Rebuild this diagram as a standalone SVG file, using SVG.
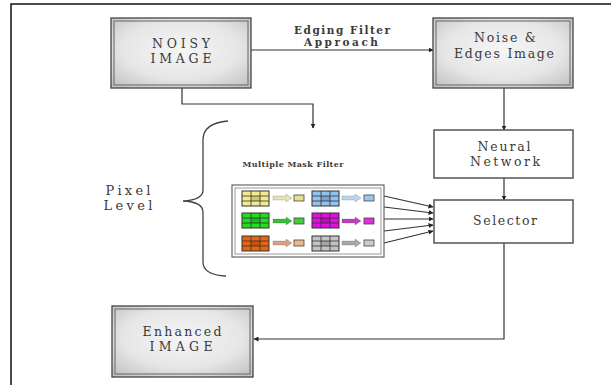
<svg xmlns="http://www.w3.org/2000/svg" xmlns:xlink="http://www.w3.org/1999/xlink" width="611" height="385" viewBox="0 0 611 385">
<defs>
<radialGradient id="gb" cx="50%" cy="45%" r="70%">
<stop offset="0" stop-color="#f6f6f6"/>
<stop offset="0.6" stop-color="#e6e6e6"/>
<stop offset="1" stop-color="#c2c2c2"/>
</radialGradient>
<marker id="ah" viewBox="0 0 10 10" refX="9" refY="5" markerWidth="5" markerHeight="5" orient="auto" markerUnits="userSpaceOnUse">
<path d="M0,0 L10,5 L0,10 z" fill="#222"/>
</marker>
<symbol id="grid" overflow="visible">
<rect x="0" y="0" width="27" height="15" fill="currentColor" stroke="#333" stroke-width="1"/>
<path d="M9,0V15M18,0V15M0,5H27M0,10H27" stroke="#333" stroke-width="0.8" fill="none"/>
<rect x="9" y="5" width="9" height="5" fill="#000" opacity="0.15"/>
</symbol>
<symbol id="arr" overflow="visible">
<path d="M0,-2 H13 V-4 L19,0 L13,4 V2 H0 Z" fill="currentColor" stroke="#000" stroke-opacity="0.25" stroke-width="0.6"/>
</symbol>
</defs>
<style>
.t{font-family:"DejaVu Serif","Liberation Serif",serif;fill:#3a3a3a;text-anchor:middle}
.gbox{fill:url(#gb);stroke:#444;stroke-width:1.3}
.gin{fill:none;stroke:#777;stroke-width:1.2}
.wbox{fill:#fff;stroke:#555;stroke-width:1.5}
.c{fill:none;stroke:#333;stroke-width:1.2}
.sb{stroke:#444;stroke-width:0.8}
</style>
<rect width="611" height="385" fill="#fff"/>
<path d="M11,385 V4 H611" fill="none" stroke="#111" stroke-width="1.5"/>

<g id="connectors">
<line class="c" x1="251" y1="50" x2="433" y2="50" marker-end="url(#ah)"/>
<path class="c" d="M182,88 V104 H313 V128" marker-end="url(#ah)"/>
<line class="c" x1="504" y1="88" x2="504" y2="130" marker-end="url(#ah)"/>
<line class="c" x1="504" y1="178" x2="504" y2="200" marker-end="url(#ah)"/>
<path class="c" d="M504,243 V339 H254" marker-end="url(#ah)"/>
<g stroke-width="0.9">
<line class="c" x1="384" y1="196" x2="433" y2="207" marker-end="url(#ah)"/>
<line class="c" x1="384" y1="207" x2="433" y2="213" marker-end="url(#ah)"/>
<line class="c" x1="384" y1="219" x2="433" y2="219" marker-end="url(#ah)"/>
<line class="c" x1="384" y1="231" x2="433" y2="225" marker-end="url(#ah)"/>
<line class="c" x1="384" y1="243" x2="433" y2="231" marker-end="url(#ah)"/>
</g>
</g>

<g id="noisy-image">
<rect class="gbox" x="111" y="18" width="140" height="70"/>
<rect class="gin" x="114" y="21" width="134" height="64"/>
<text class="t" x="181" y="48" font-size="12.5" textLength="58" lengthAdjust="spacing">NOISY</text>
<text class="t" x="181" y="63" font-size="12.5" textLength="61" lengthAdjust="spacing">IMAGE</text>
</g>

<g id="edge-label">
<text class="t" x="342" y="34" font-size="10.5" font-weight="bold" textLength="96" lengthAdjust="spacing">Edging Filter</text>
<text class="t" x="341" y="46" font-size="10.5" font-weight="bold" textLength="74" lengthAdjust="spacing">Approach</text>
</g>

<g id="noise-edges">
<rect class="gbox" x="433" y="18" width="140" height="70"/>
<rect class="gin" x="436" y="21" width="134" height="64"/>
<text class="t" x="505" y="42" font-size="12.5" textLength="62" lengthAdjust="spacing">Noise &amp;</text>
<text class="t" x="504" y="58" font-size="12.5" textLength="100" lengthAdjust="spacing">Edges Image</text>
</g>

<g id="neural-network">
<rect class="wbox" x="434" y="130" width="139" height="48"/>
<text class="t" x="504" y="151" font-size="12.5" textLength="53" lengthAdjust="spacing">Neural</text>
<text class="t" x="505" y="166" font-size="12.5" textLength="70" lengthAdjust="spacing">Network</text>
</g>

<g id="selector">
<rect class="wbox" x="434" y="200" width="139" height="43"/>
<text class="t" x="505" y="225" font-size="12.5" textLength="64" lengthAdjust="spacing">Selector</text>
</g>

<g id="enhanced-image">
<rect class="gbox" x="112" y="306" width="141" height="71"/>
<rect class="gin" x="115" y="309" width="135" height="65"/>
<text class="t" x="182" y="336" font-size="12.5" textLength="79" lengthAdjust="spacing">Enhanced</text>
<text class="t" x="181" y="351" font-size="12.5" textLength="63" lengthAdjust="spacing">IMAGE</text>
</g>

<g id="pixel-level">
<text class="t" x="128" y="195" font-size="13" textLength="45" lengthAdjust="spacing">Pixel</text>
<text class="t" x="128" y="210" font-size="13" textLength="49" lengthAdjust="spacing">Level</text>
<path d="M228,121 Q203,123 203,140 L203,190 Q203,200 183,201 Q203,202 203,212 L203,262 Q203,275 226,276" fill="none" stroke="#444" stroke-width="1.3"/>
</g>

<g id="multiple-mask-filter">
<text class="t" x="293" y="167" font-size="8" font-weight="bold" textLength="101" lengthAdjust="spacing">Multiple Mask Filter</text>
<rect x="232" y="185" width="152" height="72" fill="#fff" stroke="#666" stroke-width="1.2"/>
<rect x="235" y="188" width="146" height="66" fill="none" stroke="#999" stroke-width="1"/>
<use href="#grid" xlink:href="#grid" x="242" y="191" color="#f3ec8f"/>
<use href="#arr" xlink:href="#arr" x="273" y="198" color="#e6e2b4"/>
<rect class="sb" x="294" y="195" width="10" height="6" fill="#e8e090"/>
<use href="#grid" xlink:href="#grid" x="312" y="191" color="#92c2ee"/>
<use href="#arr" xlink:href="#arr" x="342" y="198" color="#bcd6ee"/>
<rect class="sb" x="364" y="195" width="10" height="6" fill="#9cc8ee"/>
<use href="#grid" xlink:href="#grid" x="242" y="213" color="#22dd22"/>
<use href="#arr" xlink:href="#arr" x="273" y="221" color="#38c038"/>
<rect class="sb" x="294" y="218" width="10" height="6" fill="#44cc44"/>
<use href="#grid" xlink:href="#grid" x="312" y="213" color="#e010e0"/>
<use href="#arr" xlink:href="#arr" x="342" y="221" color="#c040c0"/>
<rect class="sb" x="364" y="218" width="10" height="6" fill="#e030e0"/>
<use href="#grid" xlink:href="#grid" x="242" y="236" color="#e86414"/>
<use href="#arr" xlink:href="#arr" x="273" y="243" color="#d8a080"/>
<rect class="sb" x="294" y="240" width="10" height="6" fill="#f0b888"/>
<use href="#grid" xlink:href="#grid" x="312" y="236" color="#c4c4c4"/>
<use href="#arr" xlink:href="#arr" x="342" y="243" color="#a8a8a8"/>
<rect class="sb" x="364" y="240" width="10" height="6" fill="#cccccc"/>
</g>
</svg>
